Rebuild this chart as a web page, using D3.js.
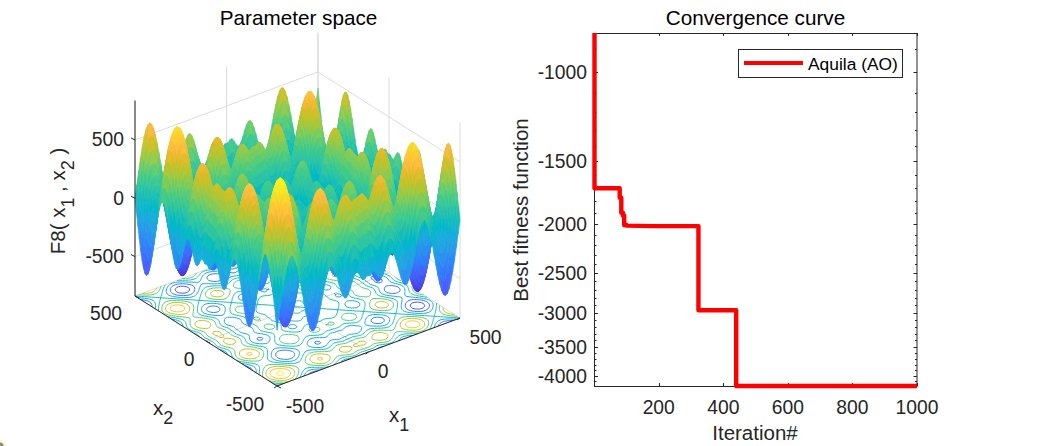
<!DOCTYPE html>
<html><head><meta charset="utf-8">
<script src="https://cdn.jsdelivr.net/npm/d3@7"></script>
<style>html,body{margin:0;padding:0;background:#fff}svg{display:block}text{font-family:"Liberation Sans",Arial,sans-serif;fill:#262626}</style>
</head><body><svg id="c" width="1041" height="446"></svg>
<script>
// Surface height profile along one input, sampled every 10 units from 0 to 500
const profileX = d3.range(0,501,10);
const profilePos = [0,0.2,19.4,21.6,-1.7,-35.4,-59.6,-61.0,-37.0,5.6,54.4,96.1,119.9,119.4,93.8,47.1,-13.2,-77.3,-135.2,-178.3,-200.0,-197.0,-168.9,-118.7,-51.5,25.8,105.2,178.8,239.3,281.0,299.8,293.5,262.4,208.4,135.8,49.4,-44.6,-139.2,-228.2,-305.2,-365.2,-403.9,-418.9,-408.7,-373.6,-315.8,-237.9,-144.2,-39.5,70.7,180.6];
const contourLevels = [-800,-600,-400,-200,0,200,400,600,800];
const zTicks = [-500,0,500];
const xyTicks = [-500,0,500];
const parula = [[.2422,.1504,.6603],[.2504,.165,.7076],[.2578,.1818,.7511],[.2647,.1978,.7952],[.2706,.2147,.8364],[.2751,.2342,.871],[.2783,.2559,.8991],[.2803,.2782,.9221],[.2813,.3006,.9414],[.281,.3228,.9579],[.2795,.3447,.9717],[.276,.3667,.9829],[.2699,.3892,.9906],[.2602,.4123,.9952],[.244,.4358,.9988],[.2206,.4603,.9973],[.1963,.4847,.9892],[.1834,.5074,.9798],[.1786,.5289,.9682],[.1764,.5499,.952],[.1687,.5703,.9359],[.154,.5902,.9218],[.146,.6091,.9079],[.138,.6276,.8973],[.1248,.6459,.8883],[.1113,.6635,.8763],[.0952,.6798,.8598],[.0689,.6948,.8394],[.0297,.7082,.8163],[.0036,.7203,.7917],[.0067,.7312,.766],[.0433,.7411,.7394],[.0964,.75,.712],[.1408,.7584,.6842],[.1717,.767,.6554],[.1938,.7758,.6251],[.2161,.7843,.5923],[.247,.7918,.5567],[.2906,.7973,.5188],[.3406,.8008,.4789],[.3909,.8029,.4354],[.4456,.8024,.3909],[.5044,.7993,.348],[.5616,.7942,.3045],[.6174,.7876,.2612],[.672,.7793,.2227],[.7242,.7698,.191],[.7738,.7598,.1646],[.8203,.7498,.1535],[.8634,.7406,.1596],[.9035,.733,.1774],[.9393,.7288,.21],[.9728,.7298,.2394],[.9956,.7434,.2371],[.997,.7659,.2199],[.9952,.7893,.2028],[.9892,.8136,.1885],[.9786,.8386,.1766],[.9676,.8639,.1643],[.961,.889,.1537],[.9597,.9135,.1423],[.9628,.9373,.1265],[.9691,.9606,.1064],[.9769,.9839,.0805]];
// Convergence curve
const iterations = [1,1,79,79,84,84,89,89,93,93,100,100,180,323,323,440,440,1000];
const fitness = [-837,-1700,-1700,-1775,-1775,-1900,-1900,-1925,-1925,-2010,-2010,-2015,-2020,-2020,-2965,-2965,-4189,-4189];
const convXTicks = [200,400,600,800,1000];
const convYTicks = [-1000,-1500,-2000,-2500,-3000,-3500,-4000];
const convYMinor = [-900,-1000,-1100,-1200,-1300,-1400,-1500,-1600,-1700,-1800,-1900,-2000,-2100,-2200,-2300,-2400,-2500,-2600,-2700,-2800,-2900,-3000,-3100,-3200,-3300,-3400,-3500,-3600,-3700,-3800,-3900,-4000,-4100];

const svg = d3.select('#c');
const ink = '#262626', gridC = '#dcdcdc';
const FS = 19.3, LS = 20.5, TS = 20.7;

/* ---------- 3D panel ---------- */
const gridX = [...profileX.slice(1).reverse().map(d=>-d),...profileX];
const gridG = [...profilePos.slice(1).reverse().map(d=>-d),...profilePos];
const n = gridX.length;
const x1X = d3.scaleLinear([-500,500],[0,183]), x1Y = d3.scaleLinear([-500,500],[0,-68]);
const x2X = d3.scaleLinear([-500,500],[0,-142]), x2Y = d3.scaleLinear([-500,500],[0,-90]);
const zY = d3.scaleLinear([-838,838],[0,-195.5]);
const proj = (a,b,z)=>[277+x1X(a)+x2X(b), 386+x1Y(a)+x2Y(b)+zY(z)];
const ci = d3.scaleQuantize([-838,838],parula.map(c=>`rgb(${c.map(v=>Math.round(v*255)).join(',')})`));
const lineP = pts=>'M'+pts.map(p=>p[0].toFixed(2)+','+p[1].toFixed(2)).join('L');
const left = svg.append('g');
const G = left.append('g').attr('fill','none').attr('stroke',gridC).attr('stroke-width',1);
for(const z of zTicks){
  G.append('path').attr('d',lineP([proj(-500,500,z),proj(500,500,z),proj(500,-500,z)]));
}
for(const t of xyTicks){
  G.append('path').attr('d',lineP([proj(t,-500,-838),proj(t,500,-838),proj(t,500,838)]));
  G.append('path').attr('d',lineP([proj(-500,t,-838),proj(500,t,-838),proj(500,t,838)]));
}
// floor contours
const vals=[]; for(let j=0;j<n;j++)for(let i=0;i<n;i++)vals.push(gridG[i]+gridG[j]);
const polys = d3.contours().size([n,n]).thresholds(contourLevels)(vals);
const cu = d3.scaleLinear([0.5,n-0.5],[-500,500]).clamp(true);
const Cg = left.append('g').attr('fill','none').attr('stroke-width',1);
polys.forEach(mp=>{
  let d='';
  mp.coordinates.forEach(poly=>poly.forEach(ring=>{
    let pen=false;
    for(let k=1;k<ring.length;k++){
      const a=ring[k-1],b=ring[k];
      const onEdge=(a[0]<=.5&&b[0]<=.5)||(a[0]>=n-.5&&b[0]>=n-.5)||(a[1]<=.5&&b[1]<=.5)||(a[1]>=n-.5&&b[1]>=n-.5);
      if(onEdge){pen=false;continue;}
      const pa=proj(cu(a[0]),cu(a[1]),-838),pb=proj(cu(b[0]),cu(b[1]),-838);
      if(!pen){d+=`M${pa[0].toFixed(2)},${pa[1].toFixed(2)}`;pen=true;}
      d+=`L${pb[0].toFixed(2)},${pb[1].toFixed(2)}`;
    }
  }));
  Cg.append('path').attr('d',d).attr('stroke',ci(mp.value));
});
// surface, back to front
const S = left.append('g').attr('stroke-width',0.7).attr('stroke-linejoin','round');
for(let j=n-2;j>=0;j--){
  for(let i=n-2;i>=0;i--){
    const z=[gridG[i]+gridG[j],gridG[i+1]+gridG[j],gridG[i+1]+gridG[j+1],gridG[i]+gridG[j+1]];
    const c=ci(d3.mean(z));
    S.append('path').attr('fill',c).attr('stroke',c).attr('d',lineP([
      proj(gridX[i],gridX[j],z[0]),proj(gridX[i+1],gridX[j],z[1]),proj(gridX[i+1],gridX[j+1],z[2]),proj(gridX[i],gridX[j+1],z[3])
    ])+'Z');
  }
}
// axes of the 3D panel
const A = left.append('g').attr('fill','none').attr('stroke',ink).attr('stroke-width',1);
A.append('path').attr('d',lineP([proj(-500,500,838),proj(-500,500,-838),proj(-500,-500,-838),proj(500,-500,-838)]));
zTicks.forEach(z=>{const p=proj(-500,500,z);A.append('path').attr('d',lineP([p,[p[0]-4,p[1]-2]]));});
xyTicks.forEach(t=>{
  let p=proj(t,-500,-838);A.append('path').attr('d',lineP([p,[p[0]-3,p[1]+2]]));
  p=proj(-500,t,-838);A.append('path').attr('d',lineP([p,[p[0]+4,p[1]+2]]));
});
const T=(x,y,s,anchor='middle',fs=FS,col=ink,rot=null)=>{const t=svg.append('text').attr('x',x).attr('y',y).attr('text-anchor',anchor).attr('font-size',fs).style('fill',col).text(s);if(rot!==null)t.attr('transform',`rotate(${rot} ${x} ${y})`);return t;};
zTicks.forEach(z=>{const p=proj(-500,500,z);T(124,p[1]+6.5,String(z),'end');});
[[-500,305,413],[0,383,378],[500,485.5,344]].forEach(([v,x,y])=>T(x,y,String(v)));
[[-500,245,411],[0,189,366],[500,106,320]].forEach(([v,x,y])=>T(x,y,String(v)));
T(298.5,25,'Parameter space','middle',TS,'#000');
const lab=(x,y,s,ss)=>{const t=svg.append('text').attr('x',x).attr('y',y).attr('font-size',LS);t.append('tspan').text(s);t.append('tspan').attr('dy',9).attr('font-size',18).text(ss);};
lab(389,421.5,'x','1');
lab(153,415,'x','2');
const zl=svg.append('text').attr('transform','translate(65,201) rotate(-90)').attr('text-anchor','middle').attr('font-size',LS);
zl.append('tspan').text('F8( x');zl.append('tspan').attr('dy',9).attr('font-size',18).text('1');
zl.append('tspan').attr('dy',-9).text(' , x');zl.append('tspan').attr('dy',9).attr('font-size',18).text('2');
zl.append('tspan').attr('dy',-9).text(' )');

/* ---------- convergence panel ---------- */
const bx=d3.scaleLinear([1,1000],[594.5,917]);
const by=d3.scaleLog([-837,-4189],[33,386]);
const R=svg.append('g');
R.append('rect').attr('x',594.5).attr('y',33.5).attr('width',322.5).attr('height',353).attr('fill','#fff').attr('stroke',ink);
const ticks=R.append('g').attr('stroke',ink).attr('fill','none');
convXTicks.forEach(v=>{const x=Math.round(bx(v))+.5;ticks.append('path').attr('d',`M${x},386V383M${x},33V36`);});
convYMinor.forEach(v=>{const y=Math.round(by(v))+.5,l=convYTicks.includes(v)?3.5:2;ticks.append('path').attr('d',`M594.5,${y}h${l}M917,${y}h${-l}`);});
R.append('path').attr('fill','none').attr('stroke','#ff0000').attr('stroke-width',4.4).attr('stroke-linejoin','round')
 .attr('d',d3.line().x(d=>bx(d[0])).y(d=>by(d[1]))(iterations.map((v,i)=>[v,fitness[i]])));
convYTicks.forEach(v=>T(587,by(v)+7,String(v),'end'));
convXTicks.forEach(v=>T(bx(v),414,String(v)));
T(755,440,'Iteration#','middle',LS);
T(755.5,25,'Convergence curve','middle',TS,'#000');
T(528,210,'Best fitness function','middle',LS,ink,-90);
// legend
R.append('rect').attr('x',738.5).attr('y',49.5).attr('width',164).attr('height',28).attr('fill','#fff').attr('stroke',ink);
R.append('line').attr('x1',744).attr('x2',803).attr('y1',63).attr('y2',63).attr('stroke','#ff0000').attr('stroke-width',4);
T(808,70,'Aquila (AO)','start',17.4,'#000');
// small mark in the bottom-left corner of the screenshot
svg.append('circle').attr('cx',0).attr('cy',446).attr('r',6).attr('fill','#fbf7d2');
svg.append('circle').attr('cx',0).attr('cy',446).attr('r',3.5).attr('fill','#8a8a80');
</script></body></html>
